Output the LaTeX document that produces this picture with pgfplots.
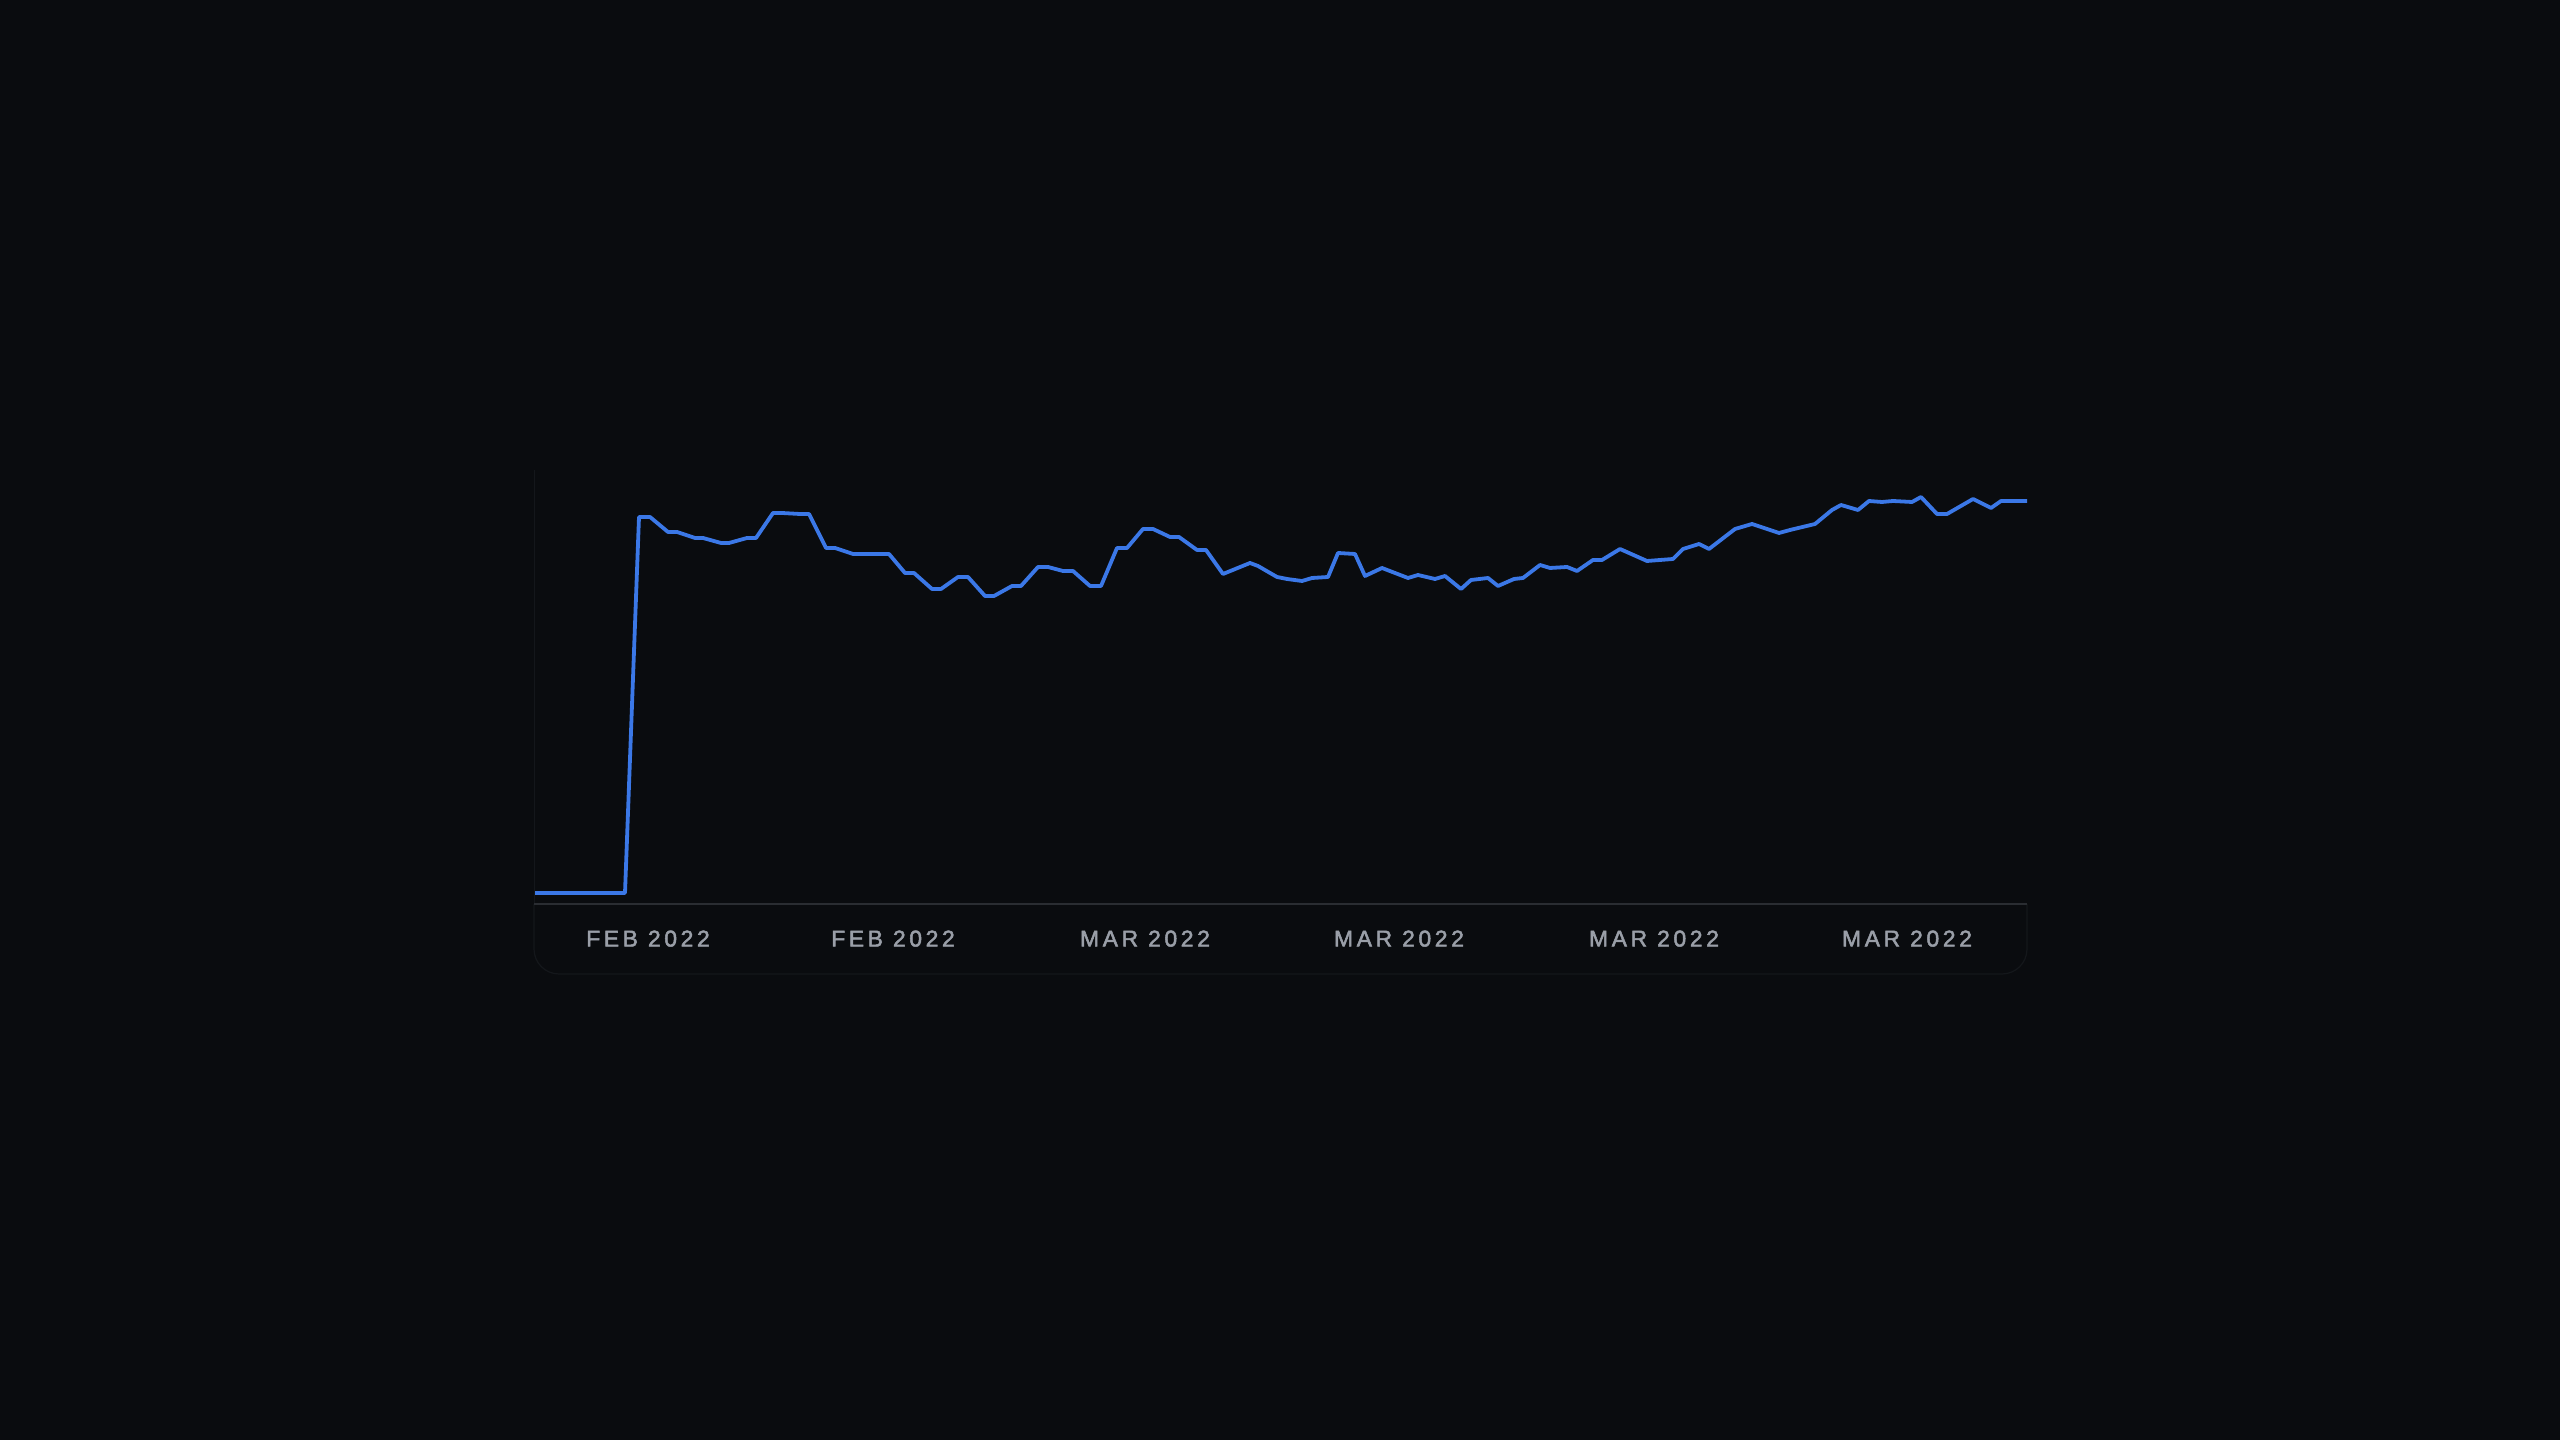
\documentclass[border=0pt]{standalone}
\usepackage{fontspec}
\usepackage{pgfplots}
\pgfplotsset{compat=1.18}
\newfontfamily\labelfont[LetterSpace=16,FakeBold=2.2]{Liberation Sans}

\definecolor{bg}{HTML}{0A0C0F}
\definecolor{linec}{HTML}{3B78E7}
\definecolor{labelc}{HTML}{9A9FA8}
\definecolor{axisc}{HTML}{2A2D32}
\definecolor{faint}{HTML}{14171B}

\begin{document}
\begin{tikzpicture}
\fill[bg] (0,0) rectangle (25.6cm,14.4cm);
\useasboundingbox (0,0) rectangle (25.6cm,14.4cm);
% frame under the axis line
\draw[faint, line width=0.12mm, rounded corners=2.5mm]
  (5.34cm,5.36cm) -- (5.34cm,4.66cm) -- (20.27cm,4.66cm) -- (20.27cm,5.36cm);
\begin{axis}[
    at={(5.34cm,5.36cm)}, anchor=south west,
    scale only axis, width=14.93cm, height=4.34cm,
    xmin=-1, xmax=1492, ymin=-11, ymax=423,
    axis line style={draw=none},
    ytick=\empty,
    xtick={113,358,610,864,1119,1372},
    xticklabels={FEB 2022,FEB 2022,MAR 2022,MAR 2022,MAR 2022,MAR 2022},
    major tick length=0pt,
    xticklabel style={anchor=base, yshift=-4.25mm, text=labelc,
      font=\labelfont\fontsize{6.5}{7}\selectfont},
    clip=false,
]
\draw[faint, line width=0.1mm] (rel axis cs:0,0) -- (rel axis cs:0,1);
\draw[axisc, line width=0.22mm] (rel axis cs:0,0) -- (rel axis cs:1,0);
\addplot[linec, line width=0.38mm, line join=round, mark=none] coordinates {
(0,0)(90,0)(104,376)(115,376)(133,361)(142,361)(160,355)(168,355)
(186,350)(194,350)(212,355)(221,355)(238,380)(247,380)(265,379)(274,379)
(291,345)(300,345)(318,339)(336,339)(354,339)(370,320)(379,320)(397,304)
(406,304)(423,316)(433,316)(450,297)(459,297)(477,307)(486,307)(503,326)
(513,326)(528,322)(538,322)(555,307)(566,307)(582,345)(592,345)(608,364)
(618,364)(635,356)(644,356)(662,343)(671,343)(688,319)(715,330)(723,327)
(742,316)(752,314)(767,312)(777,315)(793,316)(803,340)(820,339)(830,317)
(847,325)(873,315)(883,318)(900,314)(910,317)(926,304)(936,313)(953,315)
(963,307)(979,314)(988,315)(1005,328)(1015,325)(1032,326)(1042,322)
(1058,333)(1067,333)(1085,344)(1112,332)(1138,334)(1148,344)(1164,349)
(1174,344)(1200,364)(1217,369)(1244,360)(1255,363)(1280,369)(1297,383)
(1306,388)(1323,383)(1334,392)(1347,391)(1358,392)(1377,391)(1386,396)
(1402,379)(1412,379)(1438,394)(1456,385)(1466,392)(1492,392)
};
\end{axis}
\end{tikzpicture}
\end{document}
